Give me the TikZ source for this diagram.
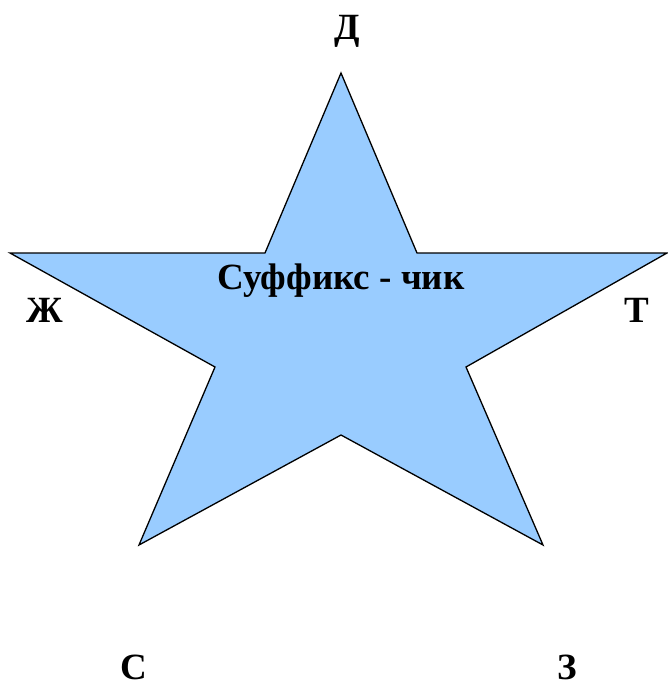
\documentclass[tikz,border=0pt]{standalone}
\usepackage{fontspec}
\setmainfont{Liberation Serif}
\begin{document}
\begin{tikzpicture}[x=1pt,y=-1pt,
  lbl/.style={font=\bfseries\fontsize{37}{40}\selectfont, anchor=base, inner sep=0pt},
  starshape/.style={draw=black, line width=1.3pt, fill=starblue, line join=miter}]
\definecolor{starblue}{HTML}{99CCFF}
\useasboundingbox (0,0) rectangle (667,683);
\draw[starshape] (341,73) -- (417,253) -- (667,253) -- (466,367) -- (543,545) -- (341,435) -- (139,545) -- (215,367) -- (10,253) -- (265,253) -- cycle;
\node[lbl] (title) at (341,289) {Суффикс - чик};
\node[lbl] (d) at (347,39) {Д};
\node[lbl] (zh) at (45,322) {Ж};
\node[lbl] (t) at (637,322) {Т};
\node[lbl] (s) at (134,679) {С};
\node[lbl] (z) at (567,679) {З};
\end{tikzpicture}
\end{document}
